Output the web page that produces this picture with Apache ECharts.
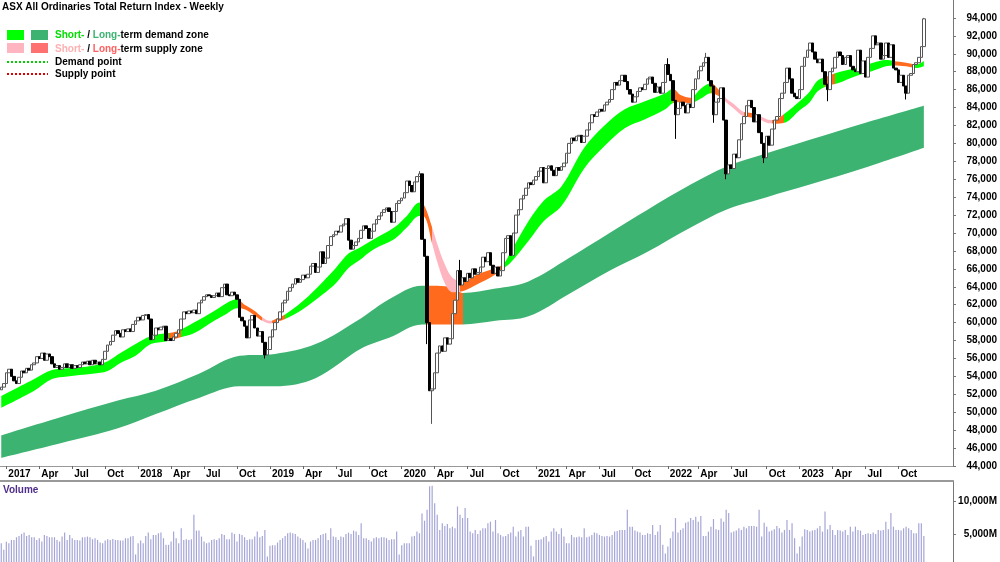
<!DOCTYPE html>
<html>
<head>
<meta charset="utf-8">
<title>ASX All Ordinaries Total Return Index - Weekly</title>
<script src="https://cdn.jsdelivr.net/npm/echarts@6/dist/echarts.min.js"></script>
<style>
html, body { margin: 0; padding: 0; background: #fff; }
#chart { width: 1000px; height: 562px; }
</style>
</head>
<body>
<div id="chart"></div>
<script>
// weekly bars, the first one is the week starting Mon 19 Dec 2016
const firstWeek = Date.UTC(2016, 11, 19);
const axisWeeks = 376; // axis keeps going ~11 weeks past the last bar
const firstOpen = 52.5;

// weekly closes, in thousands
const closes2017 = [52.8, 53.2, 54.4, 54.8, 54.0, 53.5, 53.2, 53.9, 54.6, 54.4,
  54.9, 54.7, 55.3, 55.5, 56.2, 56.0, 56.6, 55.8, 56.5, 56.2,
  55.4, 55.0, 55.2, 54.8, 55.0, 55.4, 55.0, 55.3, 54.9, 55.2,
  55.0, 55.3, 55.6, 55.4, 55.7, 55.3, 55.8, 55.4, 55.6, 55.3,
  55.9, 56.8, 57.5, 57.9, 58.6, 59.1, 58.8, 58.4, 59.2, 59.0,
  59.3, 59.0, 59.8, 60.2];
const closes2018 = [60.6, 60.3, 60.8, 60.9, 60.4, 58.1,
  58.6, 59.4, 59.2, 59.5, 59.6, 58.0, 58.2, 58.0, 58.4, 58.8,
  59.2, 60.4, 61.2, 61.0, 61.3, 61.1, 61.4, 61.0, 62.2, 62.5,
  62.9, 63.1, 63.0, 62.8, 63.0, 63.3, 62.9, 63.9, 64.3, 63.1,
  63.0, 63.4, 63.1, 62.6, 60.6, 60.2, 59.6, 58.3, 60.3, 60.8,
  59.4, 58.5, 59.0, 57.8, 56.4, 57.0];
const closes2019 = [58.4, 59.2, 60.0, 60.4,
  61.2, 62.2, 62.5, 63.5, 63.9, 64.3, 64.9, 64.5, 64.8, 65.3,
  65.0, 65.4, 66.3, 66.6, 65.6, 66.2, 67.9, 66.6, 67.2, 68.6,
  69.6, 69.8, 70.2, 70.1, 70.8, 71.0, 71.6, 69.2, 68.2, 68.6,
  69.0, 69.4, 70.3, 70.8, 70.5, 69.4, 70.2, 71.0, 71.5, 71.9,
  72.3, 72.6, 72.8, 72.4, 71.2, 72.4, 73.3, 73.6];
const closes2020 = [73.9, 74.5,
  75.8, 75.3, 74.6, 75.7, 76.3, 76.6, 69.3, 67.4, 60.0, 52.4,
  52.6, 54.4, 56.6, 57.4, 56.8, 58.3, 57.6, 58.2, 61.0, 62.5,
  65.8, 64.2, 65.0, 64.6, 65.5, 65.0, 66.0, 65.4, 65.6, 66.2,
  67.3, 66.8, 67.8, 66.4, 65.5, 66.2, 65.2, 65.8, 67.8, 69.4,
  69.7, 67.5, 70.0, 72.0, 72.6, 73.8, 74.2, 75.0, 75.6, 75.4];
const closes2021 = [75.9, 76.3, 76.9, 77.3, 75.6, 77.2, 77.5, 77.0, 76.4, 77.3,
  77.0, 77.4, 77.8, 78.9, 80.0, 80.6, 80.3, 80.8, 80.9, 80.1,
  80.8, 81.5, 82.3, 83.2, 83.0, 83.5, 83.8, 83.6, 84.3, 84.6,
  84.9, 86.0, 86.8, 86.5, 87.0, 87.6, 86.9, 86.0, 85.5, 84.6,
  85.2, 85.8, 86.2, 86.0, 86.6, 87.2, 87.4, 86.7, 85.7, 86.3,
  85.6, 86.8];
const closes2022 = [88.8, 87.7, 87.0, 84.8, 83.2, 83.9, 84.6, 84.2,
  83.4, 84.4, 84.0, 86.0, 87.2, 88.1, 88.6, 89.0, 89.6, 87.0,
  86.4, 83.2, 84.6, 85.0, 86.2, 82.6, 76.6, 77.6, 77.2, 78.8,
  78.4, 80.4, 82.2, 83.0, 84.2, 84.8, 84.0, 82.4, 83.2, 81.2,
  80.0, 78.4, 80.8, 79.8, 81.6, 82.6, 83.0, 85.0, 85.6, 86.8,
  88.4, 87.2, 85.6, 85.2];
const closes2023 = [85.0, 86.0, 88.6, 89.6, 90.4, 91.2,
  90.2, 89.4, 89.0, 89.4, 88.0, 86.6, 86.0, 88.0, 88.4, 89.6,
  90.2, 89.8, 88.8, 89.6, 89.8, 88.6, 88.2, 88.0, 90.4, 87.8,
  89.2, 87.4, 89.6, 90.6, 92.0, 91.0, 91.2, 89.4, 89.8, 91.2,
  89.6, 91.0, 88.4, 88.2, 86.8, 87.6, 86.4, 85.6, 87.6, 87.8,
  88.8, 89.0, 89.6, 90.8, 93.9];

// the few wicks that stand out: [week, value]
const highWicks = [[165, 76.9], [181, 67.0], [263, 89.5], [278, 90.1], [364, 94.0]];
const lowWicks = [[104, 56.0], [168, 57.6], [170, 48.7], [266, 80.5], [281, 82.3],
  [286, 76.0], [301, 77.8], [326, 84.7], [357, 84.9]];

// weekly volume, millions
const volumes2017 = [3600, 2600, 3800, 3600, 4100, 4100, 4500, 4700, 5000, 5200,
  4700, 4850, 4500, 4500, 4100, 4350, 3850, 4850, 4700, 4500,
  4500, 4500, 4100, 3850, 4600, 5200, 4100, 4850, 4350, 4100,
  4100, 4000, 4500, 4500, 4600, 4500, 4200, 4350, 4100, 3700,
  3600, 4000, 4200, 4100, 4250, 4100, 4100, 4000, 4000, 4350,
  4350, 4600, 4700, 1900];
const volumes2018 = [3600, 4000, 3600, 4700, 5200, 4200,
  4850, 4850, 5100, 5200, 4350, 3350, 3350, 3850, 5350, 4350,
  3600, 5850, 4100, 4200, 4100, 4200, 7900, 5500, 5500, 4600,
  3850, 3600, 3700, 4100, 4200, 4100, 4350, 5000, 4850, 4200,
  4200, 5200, 5000, 3850, 5000, 4850, 4500, 4100, 4200, 4200,
  4600, 5350, 4500, 4700, 5600, 1600];
const volumes2019 = [3200, 3300, 3300, 3700,
  4100, 4350, 4700, 5100, 5200, 5100, 5000, 4600, 4350, 4100,
  3700, 2800, 3850, 4100, 4100, 4350, 4850, 5000, 5100, 4100,
  5850, 4600, 4500, 4100, 4600, 4500, 5000, 5200, 5000, 5500,
  5350, 4850, 6600, 4350, 4350, 4100, 3850, 4350, 4500, 4350,
  4500, 4500, 4350, 4100, 4200, 4200, 5350, 1900];
const volumes2020 = [3300, 3600,
  3600, 3600, 4600, 4700, 5350, 5100, 8100, 7000, 8650, 12200,
  12300, 9650, 7900, 5600, 6600, 6200, 6500, 5850, 6100, 5850,
  9150, 7900, 7400, 8900, 7400, 5350, 5100, 5600, 5000, 5500,
  5850, 5850, 6600, 6850, 5350, 7100, 5100, 4850, 4600, 4700,
  5000, 5200, 6100, 4600, 5350, 5600, 4600, 6100, 6100, 3200];
const volumes2021 = [1600, 4100, 4100, 4200, 4500, 4700, 3850, 5350, 5850, 5350,
  5000, 5850, 4600, 3600, 3600, 4850, 4500, 4500, 4600, 4500,
  5850, 4500, 4600, 4850, 5200, 5100, 4850, 4700, 4600, 4700,
  4600, 4850, 5350, 5450, 5600, 5600, 5600, 8650, 6100, 6100,
  5500, 5350, 5200, 4850, 4850, 5100, 5000, 6350, 4850, 5350,
  6350, 3350];
const volumes2022 = [2050, 3100, 4350, 5350, 7400, 5200, 5600, 5850,
  6700, 6850, 7400, 7100, 7600, 6850, 7700, 4700, 4700, 5350,
  6100, 7250, 5700, 5600, 7350, 6850, 8650, 8150, 5200, 5350,
  5500, 5850, 5600, 6100, 5850, 6200, 6200, 6200, 6100, 8650,
  4600, 6700, 6100, 5350, 5500, 5700, 6200, 5850, 5200, 5600,
  7100, 5600, 6600, 4350];
const volumes2023 = [2050, 3100, 4600, 5700, 5600, 5350,
  5500, 5600, 5850, 6200, 5350, 8400, 5700, 6350, 5600, 4850,
  5600, 5500, 5350, 5600, 4850, 6100, 5350, 6100, 5600, 5500,
  4850, 5000, 5100, 5000, 5200, 5000, 5600, 5500, 5600, 6850,
  5700, 8150, 6100, 5600, 5600, 5500, 5850, 6100, 5850, 5600,
  5100, 5100, 6600, 6600, 4700];

// short-term zone edges (thousands) at these weeks
const shortWeeks = [0, 13, 20, 26, 36, 42, 47, 53, 59, 65, 70, 76, 84, 89, 93, 96, 100, 103, 106, 109,
  112, 119, 127, 132, 137, 141, 147, 155, 160, 165, 167, 170, 172, 175, 178, 182, 188, 194, 198, 201,
  208, 214, 221, 230, 238, 246, 254, 262, 265, 268, 272, 276, 280, 283, 286, 289, 293, 296, 299, 302,
  305, 309, 315, 319, 322, 326, 330, 337, 344, 349, 352, 357, 361, 364];
const shortLow = [50.5, 52.4, 53.7, 54.0, 54.3, 54.6, 55.5, 56.3, 57.6, 57.9, 58.3, 58.8, 60.2, 61.0, 61.6, 61.5, 60.8, 60.2, 59.9, 60.1,
  60.4, 61.5, 63.2, 64.4, 66.1, 66.9, 68.2, 69.3, 70.6, 71.9, 71.8, 68.8, 66.8, 64.4, 63.4, 63.5, 64.3, 65.2, 66.0, 66.7,
  69.1, 71.3, 73.0, 77.2, 79.7, 81.7, 82.7, 83.8, 84.5, 84.6, 84.5, 85.0, 85.6, 85.3, 84.6, 83.9, 83.0, 82.9, 82.7, 82.3,
  82.2, 82.3, 83.7, 84.6, 85.8, 86.4, 86.7, 87.5, 88.1, 88.6, 88.7, 88.6, 88.4, 88.6];
const shortHigh = [51.8, 53.7, 54.7, 54.9, 55.2, 55.7, 56.6, 57.6, 58.5, 58.8, 59.1, 60.0, 61.3, 62.2, 62.6, 62.0, 61.3, 60.6, 60.2, 60.5,
  60.9, 62.4, 64.6, 66.1, 67.7, 68.3, 69.3, 70.6, 71.9, 73.4, 73.0, 70.6, 68.8, 66.5, 65.0, 64.6, 65.4, 66.0, 66.5, 67.9,
  71.3, 73.6, 75.2, 79.5, 82.0, 83.8, 84.7, 85.6, 86.1, 85.4, 85.1, 86.1, 86.7, 86.0, 85.0, 84.4, 83.5, 83.4, 83.1, 82.7,
  82.6, 83.3, 84.7, 85.8, 87.0, 87.5, 87.9, 88.4, 89.0, 89.3, 89.2, 89.0, 88.8, 89.2];

// long-term zone edges
const longWeeks = [0, 23, 46, 61, 78, 94, 108, 124, 142, 153, 166, 178, 182, 195, 208, 224, 240, 255, 272, 286, 302, 319, 341, 364];
const longLow = [44.9, 46.5, 48.2, 49.8, 51.6, 52.9, 52.9, 53.8, 57.1, 58.3, 59.8, 59.8, 59.8, 60.2, 60.7, 63.2, 65.8, 67.9, 70.6, 72.6, 74.0, 75.4, 77.3, 79.5];
const longHigh = [47.4, 49.4, 51.3, 52.4, 54.3, 56.3, 56.5, 57.6, 60.5, 62.6, 64.1, 64.0, 63.3, 63.8, 64.6, 67.2, 70.0, 72.6, 75.4, 77.4, 78.9, 80.4, 82.3, 84.2];

// which state each stretch of the zones is in: [fromWeek, toWeek, state]
const shortStates = [[0, 66, 'demand'], [66, 71, 'turn'], [71, 94, 'demand'], [94, 103, 'turn'], [103, 107, 'supply'],
  [107, 112, 'turn'], [112, 166, 'demand'], [166, 170, 'turn'], [170, 181, 'supply'], [181, 198, 'turn'],
  [198, 265, 'demand'], [265, 272, 'turn'], [272, 280, 'demand'], [280, 285, 'turn'], [285, 293, 'supply'],
  [293, 299, 'turn'], [299, 304, 'supply'], [304, 309, 'turn'], [309, 325, 'demand'], [325, 329, 'turn'],
  [329, 352, 'demand'], [352, 360, 'turn'], [360, 376, 'demand']];
const longStates = [[0, 168, 'demand'], [168, 182, 'turn'], [182, 376, 'demand']];

const shortColors = { demand: '#00ff00', supply: '#ffb5bf', turn: '#ff6a1c' };
const longColors = { demand: '#3cb371', supply: '#ff7070', turn: '#ff6a1c' };

const FONT = '"Liberation Sans", Arial, sans-serif';
const BOLD = 'bold 10px ' + FONT;
const DAY = 86400000;

const weeks = [];
for (let i = 0; i < axisWeeks; i++) {
  weeks.push(new Date(firstWeek + i * 7 * DAY).toISOString().slice(0, 10));
}

// quarter labels sit on the week of the first trading day
const qNames = ['Jan', 'Apr', 'Jul', 'Oct'];
const tickLabels = {};
for (let y = 2017; y <= 2023; y++) {
  for (let q = 0; q < 4; q++) {
    const d = new Date(Date.UTC(y, q * 3, q === 0 ? 2 : 1));
    while (d.getUTCDay() === 0 || d.getUTCDay() === 6) d.setUTCDate(d.getUTCDate() + 1);
    const idx = Math.floor((d.getTime() - firstWeek) / (7 * DAY));
    tickLabels[idx] = q === 0 ? String(y) : qNames[q];
  }
}
const isTick = (idx) => tickLabels[idx] !== undefined;

const closes = [].concat(closes2017, closes2018, closes2019, closes2020, closes2021, closes2022, closes2023);
const volumes = [].concat(volumes2017, volumes2018, volumes2019, volumes2020, volumes2021, volumes2022, volumes2023);

const highAt = {}, lowAt = {};
highWicks.forEach(([w, v]) => { highAt[w] = v; });
lowWicks.forEach(([w, v]) => { lowAt[w] = v; });

const candles = closes.map((c, i) => {
  const o = i === 0 ? firstOpen : closes[i - 1];
  let lo = Math.min(o, c), hi = Math.max(o, c);
  if (lowAt[i] != null) lo = Math.min(lo, lowAt[i]);
  if (highAt[i] != null) hi = Math.max(hi, highAt[i]);
  return [o, c, lo, hi];
});

const pairs = (ws, vals) => ws.map((w, k) => [w, vals[k]]);
const widths = (ws, lo, hi) => ws.map((w, k) => [w, +(hi[k] - lo[k]).toFixed(2)]);

function pieces(states, colors) {
  return states.map(([a, b, s], k) => ({
    gte: k === 0 ? -10 : a,
    lt: k === states.length - 1 ? 500 : b,
    color: colors[s]
  }));
}

function baseLine(name, data, stack) {
  return { name, type: 'line', data, stack, smooth: 0.35, symbol: 'none', silent: true, z: 1,
    lineStyle: { width: 0, opacity: 0 } };
}
function zoneFill(name, data, stack) {
  return { name, type: 'line', data, stack, smooth: 0.35, symbol: 'none', silent: true, z: 1,
    lineStyle: { width: 0 }, areaStyle: { opacity: 1 } };
}

const chart = echarts.init(document.getElementById('chart'));
chart.setOption({
  animation: false,
  backgroundColor: '#ffffff',
  title: {
    text: 'ASX All Ordinaries Total Return Index - Weekly',
    left: 2, top: 2, padding: 0,
    textStyle: { fontSize: 10, fontWeight: 'bold', color: '#000', fontFamily: FONT }
  },
  grid: [
    { left: 0, right: 47, top: 0, height: 466, outerBoundsMode: 'none' },
    { left: 0, right: 47, top: 481, bottom: -5, outerBoundsMode: 'none' }
  ],
  xAxis: [
    {
      type: 'category', gridIndex: 0, data: weeks, boundaryGap: true,
      axisLine: { onZero: false, lineStyle: { color: '#999', width: 1 } },
      axisTick: { show: true, interval: isTick, alignWithLabel: true, length: 3, lineStyle: { color: '#666' } },
      axisLabel: {
        interval: isTick, formatter: (v, idx) => tickLabels[idx] || '',
        align: 'left', padding: [0, 0, 0, 2], margin: 3,
        fontSize: 10, fontWeight: 'bold', color: '#000', fontFamily: FONT
      },
      splitLine: { show: false }
    },
    {
      type: 'category', gridIndex: 1, data: weeks, boundaryGap: true, position: 'top',
      axisLine: { onZero: false, lineStyle: { color: '#999', width: 2 } },
      axisTick: { show: false }, axisLabel: { show: false }, splitLine: { show: false }
    }
  ],
  yAxis: [
    {
      type: 'value', gridIndex: 0, position: 'right', min: 44, max: 96, interval: 2,
      axisLine: { show: true, lineStyle: { color: '#777' } },
      axisTick: { show: true, length: 3, lineStyle: { color: '#777' } },
      splitLine: { show: false },
      axisLabel: {
        showMaxLabel: false, align: 'right', margin: 44,
        formatter: (v) => (v * 1000).toLocaleString('en-US'),
        fontSize: 10, fontWeight: 'bold', color: '#000', fontFamily: FONT
      }
    },
    {
      type: 'value', gridIndex: 1, position: 'right', min: 0, max: 13000, interval: 5000,
      axisLine: { show: true, lineStyle: { color: '#777' } },
      axisTick: { show: true, length: 3, lineStyle: { color: '#777' } },
      splitLine: { show: false },
      axisLabel: {
        showMaxLabel: false, align: 'right', margin: 44,
        formatter: (v) => (v > 0 && v % 5000 === 0) ? v.toLocaleString('en-US') + 'M' : '',
        fontSize: 10, fontWeight: 'bold', color: '#000', fontFamily: FONT
      }
    }
  ],
  visualMap: [
    { type: 'piecewise', show: false, seriesIndex: 1, dimension: 0,
      pieces: pieces(longStates, longColors), outOfRange: { color: longColors.demand } },
    { type: 'piecewise', show: false, seriesIndex: 3, dimension: 0,
      pieces: pieces(shortStates, shortColors), outOfRange: { color: shortColors.demand } }
  ],
  series: [
    baseLine('long low', pairs(longWeeks, longLow), 'long'),
    zoneFill('long zone', widths(longWeeks, longLow, longHigh), 'long'),
    baseLine('short low', pairs(shortWeeks, shortLow), 'short'),
    zoneFill('short zone', widths(shortWeeks, shortLow, shortHigh), 'short'),
    {
      name: 'Index', type: 'candlestick', data: candles, barWidth: 3, z: 3,
      itemStyle: { color: '#ffffff', color0: '#000000', borderColor: '#555555', borderColor0: '#000000', borderWidth: 1 }
    },
    {
      name: 'Volume', type: 'bar', xAxisIndex: 1, yAxisIndex: 1, data: volumes,
      barWidth: 1.2, itemStyle: { color: '#a5a5d8' }, silent: true
    }
  ],
  graphic: [
    { type: 'rect', shape: { x: 7, y: 30, width: 17, height: 10 }, style: { fill: shortColors.demand } },
    { type: 'rect', shape: { x: 31, y: 30, width: 17, height: 10 }, style: { fill: longColors.demand } },
    { type: 'rect', shape: { x: 7, y: 43, width: 17, height: 10 }, style: { fill: shortColors.supply } },
    { type: 'rect', shape: { x: 31, y: 43, width: 17, height: 10 }, style: { fill: longColors.supply } },
    { type: 'line', shape: { x1: 7, y1: 62, x2: 48, y2: 62 }, style: { stroke: '#00d000', lineWidth: 2, lineDash: [2, 2] } },
    { type: 'line', shape: { x1: 7, y1: 74, x2: 48, y2: 74 }, style: { stroke: '#dd0000', lineWidth: 2, lineDash: [2, 2] } },
    {
      type: 'text', x: 55, y: 35,
      style: {
        text: '{a|Short-}{k| / }{b|Long-}{k|term demand zone}',
        font: BOLD, verticalAlign: 'middle', fill: '#000',
        rich: { a: { fill: '#00dd00', font: BOLD }, b: { fill: '#3cb371', font: BOLD }, k: { fill: '#000', font: BOLD } }
      }
    },
    {
      type: 'text', x: 55, y: 49,
      style: {
        text: '{a|Short-}{k| / }{b|Long-}{k|term supply zone}',
        font: BOLD, verticalAlign: 'middle', fill: '#000',
        rich: { a: { fill: '#ffb0b0', font: BOLD }, b: { fill: '#ff6060', font: BOLD }, k: { fill: '#000', font: BOLD } }
      }
    },
    { type: 'text', x: 55, y: 62, style: { text: 'Demand point', font: BOLD, verticalAlign: 'middle', fill: '#000' } },
    { type: 'text', x: 55, y: 74, style: { text: 'Supply point', font: BOLD, verticalAlign: 'middle', fill: '#000' } },
    { type: 'text', x: 3, y: 490, style: { text: 'Volume', font: BOLD, verticalAlign: 'middle', fill: '#4f2d8a' } }
  ]
});
</script>
</body>
</html>
